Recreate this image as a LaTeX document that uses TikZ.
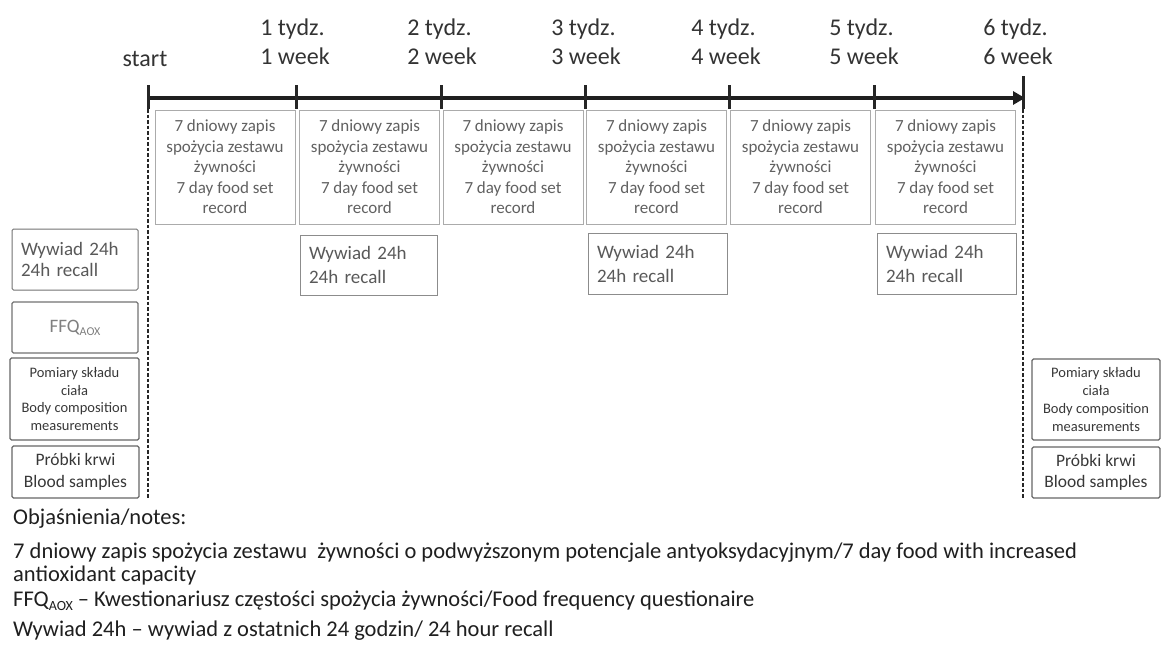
\documentclass[tikz,border=0pt]{standalone}
\usepackage{fontspec}
\setmainfont{Carlito}
\usetikzlibrary{arrows.meta,calc}
\begin{document}
\begin{tikzpicture}[x=1pt,y=-1pt,
  lbl/.style={font=\fontsize{24}{29}\selectfont, align=left, inner sep=0, text=black!80},
  weekbox/.style={draw=black!33, line width=0.9, minimum width=140, minimum height=114, inner sep=0, align=center, text=black!62, font=\fontsize{17}{20.5}\selectfont},
  recall/.style={draw=black!45, line width=1, inner xsep=9, inner ysep=0, align=left, text=black!65, font=\fontsize{19}{24}\selectfont},
  sidebox/.style={draw=black!60, line width=1.1, rounded corners=1.5, inner sep=0, align=center, text=black!78},
  note/.style={font=\fontsize{22.5}{23}\selectfont, inner sep=0, text=black!88},
  tick/.style={line width=3, black!85},
  timeline/.style={line width=4.5, black!88, -{Triangle[length=12pt,width=13pt]}},
  vdash/.style={line width=2.5, black!85, dash pattern=on 3.5pt off 2pt}
]
\fill[white] (0,0) rectangle (1161,645);
\useasboundingbox (0,0) rectangle (1161,645);

% timeline coordinates
\foreach \n/\x in {0/148,1/296,2/441,3/585,4/729,5/874,6/1023}
  \coordinate (t\n) at (\x,98);
\coordinate (tip) at (1025,98);
\coordinate (s0) at (148,498);
\coordinate (s6) at (1023,498);

% dotted verticals
\draw[vdash] (t0) -- (s0);
\draw[vdash] (t6) -- (s6);

% main axis
\draw[timeline] (t0) -- (tip);
\foreach \n in {0,...,5}
  \draw[tick] ($(t\n)+(0,-13)$) -- ($(t\n)+(0,11)$);
\draw[tick] ($(t6)+(0,-22)$) -- ($(t6)+(0,11)$);

% labels
\node[lbl, anchor=base] (l0) at (145,66) {start};
\node[lbl, anchor=south] (l1) at (295,65) {1 tydz.\\1 week};
\node[lbl, anchor=south] (l2) at (442,65) {2 tydz.\\2 week};
\node[lbl, anchor=south] (l3) at (586,65) {3 tydz.\\3 week};
\node[lbl, anchor=south] (l4) at (726,65) {4 tydz.\\4 week};
\node[lbl, anchor=south] (l5) at (864,65) {5 tydz.\\5 week};
\node[lbl, anchor=south] (l6) at (1018,65) {6 tydz.\\6 week};

% 7-day boxes
\foreach \n/\x in {1/225,2/369.5,3/513,4/656.5,5/800.5,6/945.5}
  \node[weekbox] (w\n) at (\x,167) {7 dniowy zapis\\spożycia zestawu\\żywności\\7 day food set\\record};

% recall boxes along the timeline
\node[recall, text width=119, minimum height=60] (r2) at (368.5,265) {Wywiad 24h\\24h recall};
\node[recall, text width=121, minimum height=61] (r4) at (657.5,263.5) {Wywiad 24h\\24h recall};
\node[recall, text width=121, minimum height=61] (r6) at (946.5,263.5) {Wywiad 24h\\24h recall};

% left column
\node[recall, draw=black!55, rounded corners=1.5, text width=108, minimum height=61, font=\fontsize{19}{21}\selectfont] (rl) at (75,259.5) {Wywiad 24h\\24h recall};
\node[sidebox, draw=black!55, minimum width=126, minimum height=51, text=black!50, font=\fontsize{19}{21}\selectfont] (ffq) at (75,327.5) {FFQ\raisebox{-0.35ex}{\fontsize{12}{12}\selectfont AOX}};
\node[sidebox, minimum width=129, minimum height=82, font=\fontsize{14.5}{17.7}\selectfont] (pl) at (74.5,399) {Pomiary składu\\ciała\\Body composition\\measurements};
\node[sidebox, minimum width=127, minimum height=52, font=\fontsize{17.5}{21.5}\selectfont] (bl) at (75.5,472) {Próbki krwi\\Blood samples};

% right column
\node[sidebox, minimum width=128, minimum height=81, font=\fontsize{14.5}{17.7}\selectfont] (pr) at (1096,399.5) {Pomiary składu\\ciała\\Body composition\\measurements};
\node[sidebox, minimum width=128, minimum height=51, font=\fontsize{17.5}{21.5}\selectfont] (br) at (1096,472.5) {Próbki krwi\\Blood samples};

% notes
\node[note, anchor=base west] (n0) at (13,524) {Objaśnienia/notes:};
\node[note, anchor=base west] (n1) at (13,558) {7 dniowy zapis spożycia zestawu\ \ żywności o podwyższonym potencjale antyoksydacyjnym/7 day food with increased};
\node[note, anchor=base west] (n1b) at (13,581) {antioxidant capacity};
\node[note, anchor=base west] (n2) at (13,606) {FFQ\raisebox{-0.4ex}{\fontsize{14}{14}\selectfont AOX} – Kwestionariusz częstości spożycia żywności/Food frequency questionaire};
\node[note, anchor=base west] (n3) at (13,636) {Wywiad 24h – wywiad z ostatnich 24 godzin/ 24 hour recall};
\end{tikzpicture}
\end{document}
